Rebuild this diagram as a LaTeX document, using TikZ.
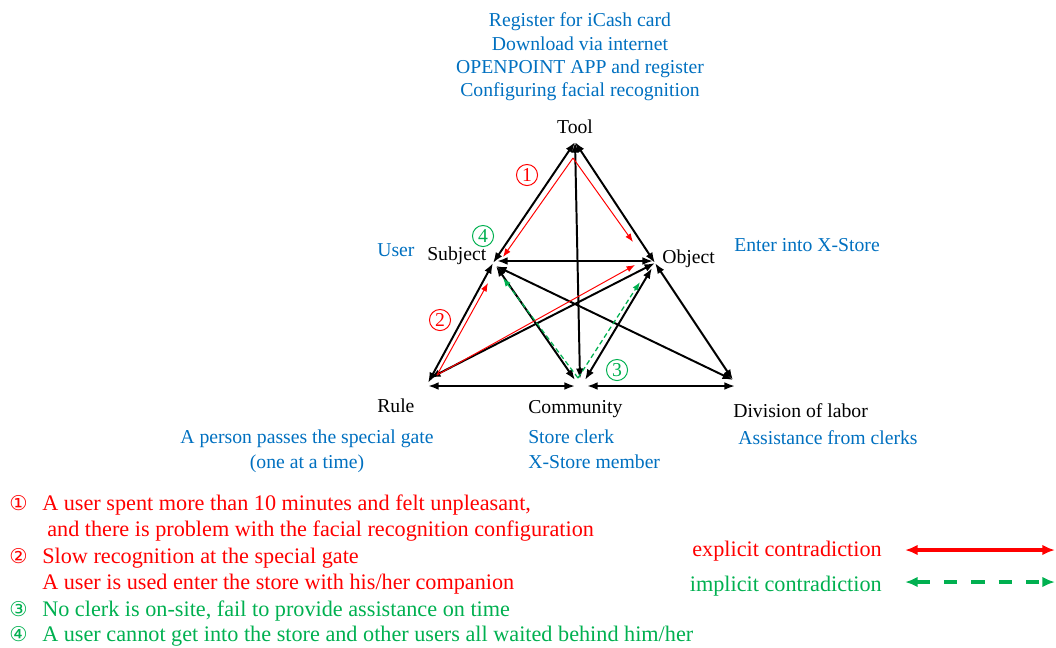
\documentclass[tikz,border=0pt]{standalone}
\usepackage{fontspec}
\setmainfont{Liberation Serif}
\newfontfamily\numglyphfont{DejaVu Sans}
\usetikzlibrary{arrows.meta,calc}
\definecolor{txtblue}{RGB}{0,112,192}
\definecolor{cred}{RGB}{255,0,0}
\definecolor{cgreen}{RGB}{0,176,80}
\newcommand{\numglyph}[1]{{\numglyphfont\fontsize{14.5}{14.5}\selectfont #1}}
\tikzset{
  lbl/.style={font=\fontsize{14}{16.8}\selectfont, inner sep=0pt},
  info/.style={lbl, text=txtblue},
  link/.style={{Latex[length=7.5pt,width=5.5pt]}-{Latex[length=7.5pt,width=5.5pt]}, line width=1.4pt},
  expl/.style={-{Latex[length=6pt,width=4.5pt]}, cred, line width=0.7pt},
  impl/.style={-{Latex[length=6pt,width=4.5pt]}, cgreen, line width=0.9pt, dash pattern=on 3.5pt off 2.2pt},
  num/.style={circle, draw=#1, text=#1, line width=0.7pt, minimum size=15pt, inner sep=0pt, font=\fontsize{14}{14}\selectfont},
  note/.style={font=\fontsize{15.8}{19}\selectfont, inner sep=0pt, anchor=base west},
}
\begin{document}
\begin{tikzpicture}[x=0.025cm, y=-0.025cm]
\useasboundingbox (0,0) rectangle (1056,647);

% corners of the triangle
\coordinate (tool) at (575,142);
\coordinate (subj) at (493,263);
\coordinate (obj) at (655,263);
\coordinate (rule) at (428,383);
\coordinate (comm) at (580,383);
\coordinate (div) at (735,383);

\draw[link] (tool) -- (subj);
\draw[link] (tool) -- (obj);
\draw[link] (tool) -- ($(comm)+(0,-4)$);
\draw[link] ($(subj)+(4,-2)$) -- ($(obj)+(-2,-2)$);
\draw[link] (subj) -- (rule);
\draw[link] ($(subj)+(3,3)$) -- ($(comm)+(-5,-3)$);
\draw[link] ($(subj)+(3,3)$) -- ($(div)+(-2,-3)$);
\draw[link] (obj) -- ($(rule)+(2,-5)$);
\draw[link] ($(obj)+(-3,5)$) -- ($(comm)+(5,-3)$);
\draw[link] (obj) -- ($(div)+(-2,-3)$);
\draw[link] ($(rule)+(0,3)$) -- ($(comm)+(-5,3)$);
\draw[link] ($(comm)+(7,3)$) -- ($(div)+(0,3)$);

% explicit and implicit contradictions
\coordinate (e1) at (573,158);
\coordinate (e1s) at (503,257);
\coordinate (e1o) at (633,242);
\coordinate (e2) at (437,375);
\coordinate (e2s) at (488,283);
\coordinate (e2o) at (635,265);
\coordinate (i3) at (578,378);
\coordinate (i3s) at (503,278);
\coordinate (i3o) at (640,282);
\draw[expl] (e1) -- (e1s);
\draw[expl] (e1) -- (e1o);
\draw[expl] (e2) -- (e2s);
\draw[expl] (e2) -- (e2o);
\draw[impl] (i3) -- (i3s);
\draw[impl] (i3) -- (i3o);

\node[num=cred] (n1) at (527,175) {1};
\node[num=cred] (n2) at (440,320) {2};
\node[num=cgreen] (n3) at (617,370) {3};
\node[num=cgreen] (n4) at (483,236) {4};

% element names
\node[lbl, anchor=base] (toolL) at (575,133) {Tool};
\node[lbl, anchor=base west] (subjL) at (427,260) {Subject};
\node[lbl, anchor=base west] (objL) at (662,263) {Object};
\node[lbl, anchor=base west] (ruleL) at (377,412) {Rule};
\node[lbl, anchor=base west] (commL) at (528,413) {Community};
\node[lbl, anchor=base west] (divL) at (733,417) {Division of labor};

% case details
\node[info, anchor=base] (reg1) at (580,26.7) {Register for iCash card};
\node[info, anchor=base] (reg2) at (580,50) {Download via internet};
\node[info, anchor=base] (reg3) at (580,73.3) {OPENPOINT APP and register};
\node[info, anchor=base] (reg4) at (580,96.6) {Configuring facial recognition};
\node[info, anchor=base west] (userL) at (377,256) {User};
\node[info, anchor=base west] (storeL) at (734,251) {Enter into X-Store};
\node[info, anchor=base] (gate1) at (307,443) {A person passes the special gate};
\node[info, anchor=base] (gate2) at (307,468) {(one at a time)};
\node[info, anchor=base west] (clerk) at (528,443) {Store clerk};
\node[info, anchor=base west] (member) at (528,468) {X-Store member};
\node[info, anchor=base west] (assist) at (738,444) {Assistance from clerks};

% list of contradictions
\node[note, text=cred] (m1) at (9,510) {\numglyph{①}};
\node[note, text=cred] (t1) at (42,510) {A user spent more than 10 minutes and felt unpleasant,};
\node[note, text=cred] (t1b) at (47,536.5) {and there is problem with the facial recognition configuration};
\node[note, text=cred] (m2) at (9,563) {\numglyph{②}};
\node[note, text=cred] (t2) at (42,563) {Slow recognition at the special gate};
\node[note, text=cred] (t2b) at (42,589.5) {A user is used enter the store with his/her companion};
\node[note, text=cgreen] (m3) at (9,616) {\numglyph{③}};
\node[note, text=cgreen] (t3) at (42,616) {No clerk is on-site, fail to provide assistance on time};
\node[note, text=cgreen] (m4) at (9,641.5) {\numglyph{④}};
\node[note, text=cgreen] (t4) at (42,641.5) {A user cannot get into the store and other users all waited behind him/her};

% legend
\node[note, text=cred, anchor=base east] (explL) at (882,556) {explicit contradiction};
\node[note, text=cgreen, anchor=base east] (implL) at (882,591) {implicit contradiction};
\coordinate (ea) at (905,550);
\coordinate (eb) at (1055,550);
\coordinate (ia) at (905,582);
\coordinate (ib) at (1055,582);
\draw[cred, line width=2.4pt, {Latex[length=9pt,width=7.5pt]}-{Latex[length=9pt,width=7.5pt]}] (ea) -- (eb);
\draw[cgreen, line width=2.4pt, dash pattern=on 9.5pt off 10pt, {Latex[length=9pt,width=7.5pt]}-{Latex[length=9pt,width=7.5pt]}] (ia) -- (ib);
\end{tikzpicture}
\end{document}
